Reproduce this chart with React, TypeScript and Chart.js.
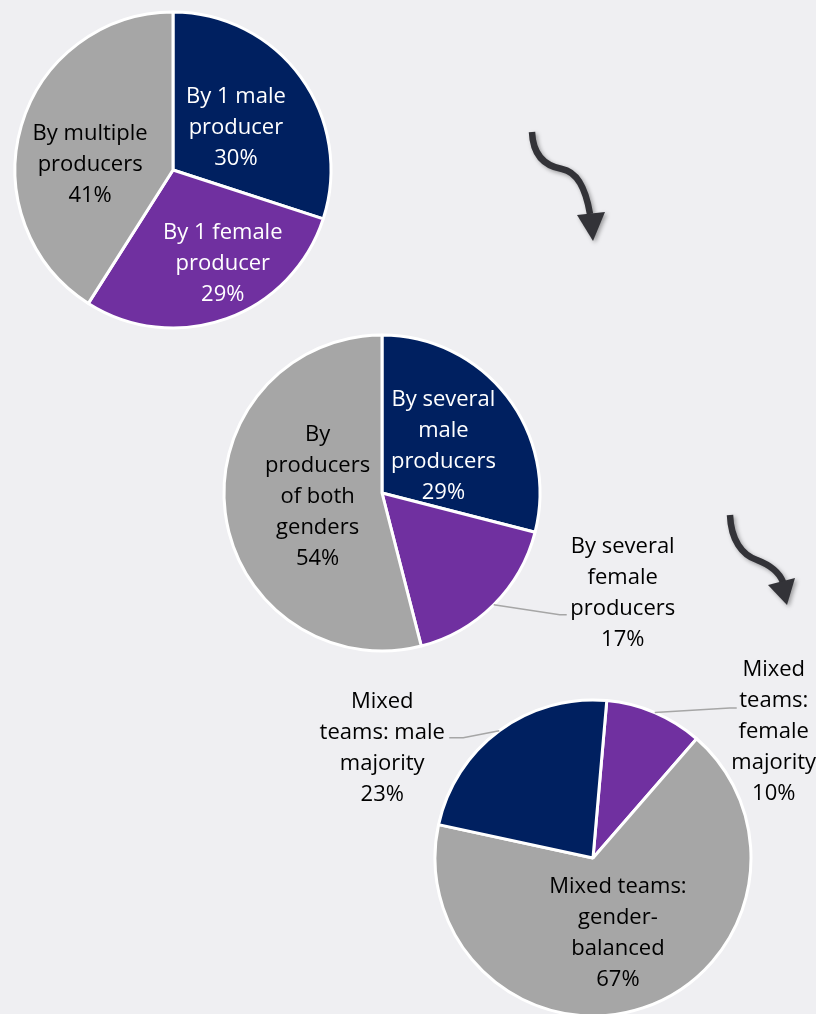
import React, { useEffect, useRef } from "react";
import { Chart, registerables } from "chart.js";
Chart.register(...registerables);

// ---------- data ----------
const soloCategories = [["By 1 male", "producer"], ["By 1 female", "producer"], ["By multiple", "producers"]];
const soloValues = [30, 29, 41];

const multiCategories = [["By several", "male", "producers"], ["By several", "female", "producers"], ["By", "producers", "of both", "genders"]];
const multiValues = [29, 17, 54];

const mixedCategories = [["Mixed", "teams:", "female", "majority"], ["Mixed teams:", "gender-", "balanced"], ["Mixed", "teams: male", "majority"]];
const mixedValues = [10, 67, 23];

// ---------- styles / layout ----------
const W = 816;
const H = 1014;
const BG = "#EFEFF2";
const NAVY = "#002060";
const PURPLE = "#7030A0";
const GRAY = "#A6A6A6";
const FONT = "22px 'Open Sans'";
const LINE_H = 31;
const TEXT_SHIFT = 2;

type InLabel = { mode: "in"; dx: number; dy: number; color: string };
type OutLabel = { mode: "out"; elbow: [number, number]; end: [number, number]; text: [number, number]; color: string };
type Label = InLabel | OutLabel;

type PieSpec = {
  categories: string[][];
  values: number[];
  colors: string[];
  cx: number;
  cy: number;
  radius: number;
  rotation: number;
  labels: Label[];
};

const pies: PieSpec[] = [
  {
    categories: soloCategories,
    values: soloValues,
    colors: [NAVY, PURPLE, GRAY],
    cx: 173, cy: 170, radius: 158, rotation: 0,
    labels: [
      { mode: "in", dx: -1, dy: 2, color: "#FFFFFF" },
      { mode: "in", dx: 23, dy: 17, color: "#FFFFFF" },
      { mode: "in", dx: -7, dy: 15, color: "#000000" },
    ],
  },
  {
    categories: multiCategories,
    values: multiValues,
    colors: [NAVY, PURPLE, GRAY],
    cx: 382, cy: 493, radius: 158, rotation: 0,
    labels: [
      { mode: "in", dx: -1, dy: 0, color: "#FFFFFF" },
      { mode: "out", elbow: [66, 10], end: [73, 10], text: [129, -13], color: "#000000" },
      { mode: "in", dx: 14, dy: -8, color: "#000000" },
    ],
  },
  {
    categories: mixedCategories,
    values: mixedValues,
    colors: [PURPLE, GRAY, NAVY],
    cx: 593, cy: 858, radius: 158, rotation: 5,
    labels: [
      { mode: "out", elbow: [75, -4.5], end: [82, -4.5], text: [119, 17.5], color: "#000000" },
      { mode: "in", dx: 0, dy: -2, color: "#000000" },
      { mode: "out", elbow: [-36, 7], end: [-50, 7], text: [-117, 15], color: "#000000" },
    ],
  },
];

function drawBlock(ctx: CanvasRenderingContext2D, lines: string[], x: number, y: number, color: string) {
  ctx.save();
  ctx.font = FONT;
  ctx.fillStyle = color;
  ctx.textAlign = "center";
  ctx.textBaseline = "middle";
  const top = y + TEXT_SHIFT - ((lines.length - 1) * LINE_H) / 2;
  lines.forEach((l, i) => ctx.fillText(l, x, top + i * LINE_H));
  ctx.restore();
}

function labelPlugin(spec: PieSpec) {
  return {
    id: "pieLabels",
    afterDatasetsDraw(chart: any) {
      const ctx: CanvasRenderingContext2D = chart.ctx;
      const meta = chart.getDatasetMeta(0);
      meta.data.forEach((arc: any, i: number) => {
        const p = arc.getProps(["x", "y", "startAngle", "endAngle", "outerRadius"], true);
        const mid = (p.startAngle + p.endAngle) / 2;
        const lab = spec.labels[i];
        const lines = [...spec.categories[i], `${spec.values[i]}%`];
        if (lab.mode === "in") {
          const x = p.x + Math.cos(mid) * p.outerRadius * 0.5 + lab.dx;
          const y = p.y + Math.sin(mid) * p.outerRadius * 0.5 + lab.dy;
          drawBlock(ctx, lines, x, y, lab.color);
        } else {
          const ex = p.x + Math.cos(mid) * p.outerRadius;
          const ey = p.y + Math.sin(mid) * p.outerRadius;
          ctx.save();
          ctx.strokeStyle = "#A6A6A6";
          ctx.lineWidth = 1.5;
          ctx.beginPath();
          ctx.moveTo(ex, ey);
          ctx.lineTo(ex + lab.elbow[0], ey + lab.elbow[1]);
          ctx.lineTo(ex + lab.end[0], ey + lab.end[1]);
          ctx.stroke();
          ctx.restore();
          drawBlock(ctx, lines, ex + lab.text[0], ey + lab.text[1], lab.color);
        }
      });
    },
  };
}

const arrowPlugin = {
  id: "arrows",
  afterDraw(chart: any) {
    const ctx: CanvasRenderingContext2D = chart.ctx;
    const color = "#333338";
    const arrows = [
      { start: [532, 132], c1: [533, 156, 545, 166, 562, 169], c2: [578, 172, 586, 190, 590, 214], head: [[577, 215], [605, 212], [593, 241]] },
      { start: [730, 515], c1: [731, 540, 742, 555, 757, 560], c2: [770, 565, 779, 572, 783, 582], head: [[768, 585], [795, 578], [787, 605]] },
    ];
    ctx.save();
    ctx.shadowColor = "rgba(0,0,0,0.35)";
    ctx.shadowBlur = 4;
    ctx.shadowOffsetX = 2;
    ctx.shadowOffsetY = 2;
    arrows.forEach((a) => {
      ctx.strokeStyle = color;
      ctx.lineWidth = 6.5;
      ctx.lineCap = "butt";
      ctx.beginPath();
      ctx.moveTo(a.start[0], a.start[1]);
      ctx.bezierCurveTo(a.c1[0], a.c1[1], a.c1[2], a.c1[3], a.c1[4], a.c1[5]);
      ctx.bezierCurveTo(a.c2[0], a.c2[1], a.c2[2], a.c2[3], a.c2[4], a.c2[5]);
      ctx.stroke();
      ctx.fillStyle = color;
      ctx.beginPath();
      ctx.moveTo(a.head[0][0], a.head[0][1]);
      ctx.lineTo(a.head[1][0], a.head[1][1]);
      ctx.lineTo(a.head[2][0], a.head[2][1]);
      ctx.closePath();
      ctx.fill();
    });
    ctx.restore();
  },
};

function PieLayer({ spec, withArrows }: { spec: PieSpec; withArrows?: boolean }) {
  const ref = useRef<HTMLCanvasElement>(null);
  useEffect(() => {
    if (!ref.current) return;
    const half = 100;
    const plugins: any[] = [labelPlugin(spec)];
    if (withArrows) plugins.push(arrowPlugin);
    const chart = new Chart(ref.current, {
      type: "pie",
      data: {
        labels: spec.categories.map((c) => c.join(" ")),
        datasets: [
          {
            data: spec.values,
            backgroundColor: spec.colors,
            borderColor: "#FFFFFF",
            borderWidth: 3,
            hoverOffset: 0,
            offset: 0,
            radius: spec.radius,
            rotation: spec.rotation,
          } as any,
        ],
      },
      options: {
        responsive: false,
        animation: false,
        events: [],
        layout: {
          padding: {
            left: spec.cx - half,
            right: W - spec.cx - half,
            top: spec.cy - half,
            bottom: H - spec.cy - half,
          },
        },
        plugins: { legend: { display: false }, tooltip: { enabled: false } },
      },
      plugins,
    });
    return () => chart.destroy();
  }, [spec, withArrows]);
  return <canvas ref={ref} width={W} height={H} style={{ position: "absolute", left: 0, top: 0, width: W, height: H }} />;
}

export default function App() {
  return (
    <div style={{ position: "absolute", left: 0, top: 0, width: W, height: H, background: BG, overflow: "hidden" }}>
      <PieLayer spec={pies[0]} />
      <PieLayer spec={pies[1]} />
      <PieLayer spec={pies[2]} withArrows />
    </div>
  );
}
